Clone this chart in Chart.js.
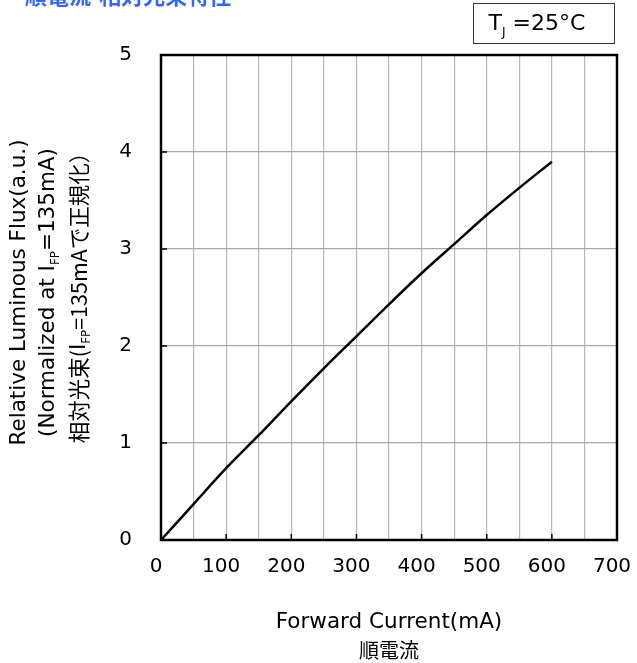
<!DOCTYPE html>
<html lang="ja">
  <head>
    <meta charset="UTF-8" />
    <title>順電流-相対光束特性</title>
    <script src="https://cdn.jsdelivr.net/npm/chart.js"></script>
    <style>
      body {
        margin: 0;
        background: #fff;
      }
      canvas {
        display: block;
      }
    </style>
  </head>
  <body>
    <canvas id="fluxChart" width="637" height="663"></canvas>

    <script>
      // forward current (mA) vs relative luminous flux
      const currents = [0, 50, 100, 150, 200, 250, 300, 350, 400, 450, 500, 550, 600];
      const flux = [0, 0.37, 0.74, 1.08, 1.43, 1.77, 2.1, 2.43, 2.75, 3.05, 3.35, 3.63, 3.9];
      const xTicks = [0, 100, 200, 300, 400, 500, 600, 700];
      const yTicks = [0, 1, 2, 3, 4, 5];

      const FONT = "'DejaVu Sans', Verdana, sans-serif";
      const CJK = "'Noto Sans CJK JP', 'DejaVu Sans', sans-serif";

      // draws a run of text pieces, some as subscripts, centered on (0,0)
      function drawRuns(ctx, runs, size) {
        let total = 0;
        runs.forEach((r) => {
          ctx.font = (r.sub ? size * 0.55 : size) + "px " + (r.cjk ? CJK : FONT);
          r.w = ctx.measureText(r.t).width;
          total += r.w;
        });
        let x = -total / 2;
        runs.forEach((r) => {
          ctx.font = (r.sub ? size * 0.55 : size) + "px " + (r.cjk ? CJK : FONT);
          ctx.fillText(r.t, x, r.sub ? size * 0.38 : 0);
          x += r.w;
        });
      }

      const decorations = {
        id: "decorations",
        afterDraw(chart) {
          const ctx = chart.ctx;
          const a = chart.chartArea;
          const xs = chart.scales.x;
          const ys = chart.scales.y;
          ctx.save();

          // inside tick marks
          ctx.strokeStyle = "#000";
          ctx.lineWidth = 1.5;
          xTicks.forEach((v) => {
            const px = xs.getPixelForValue(v);
            ctx.beginPath();
            ctx.moveTo(px, a.bottom);
            ctx.lineTo(px, a.bottom - 6);
            ctx.stroke();
          });
          yTicks.forEach((v) => {
            const py = ys.getPixelForValue(v);
            ctx.beginPath();
            ctx.moveTo(a.left, py);
            ctx.lineTo(a.left + 6, py);
            ctx.stroke();
          });

          // frame
          ctx.lineWidth = 2.5;
          ctx.strokeRect(a.left, a.top, a.right - a.left, a.bottom - a.top);

          // title, cut off at the top edge like the original
          ctx.fillStyle = "#3366ff";
          ctx.font = "bold 22px " + CJK;
          ctx.textBaseline = "alphabetic";
          ctx.textAlign = "left";
          ctx.fillText("順電流-相対光束特性", 25, 4);

          // condition box
          ctx.strokeStyle = "#333";
          ctx.lineWidth = 1;
          ctx.strokeRect(473.5, 3.5, 141, 40);
          ctx.fillStyle = "#000";
          ctx.textBaseline = "middle";
          ctx.save();
          ctx.translate(537, 24);
          drawRuns(ctx, [{ t: "T" }, { t: "J", sub: true }, { t: " =25°C" }], 22);
          ctx.restore();

          // y axis title, three rotated lines
          const yc = (a.top + a.bottom) / 2 - 5;
          const lines = [
            { x: 19, runs: [{ t: "Relative Luminous Flux(a.u.)" }] },
            { x: 48, runs: [{ t: "(Normalized at I" }, { t: "FP", sub: true }, { t: "=135mA)" }] },
            {
              x: 79,
              runs: [
                { t: "相対光束(", cjk: true },
                { t: "I" },
                { t: "FP", sub: true },
                { t: "=135mAで正規化）", cjk: true },
              ],
            },
          ];
          lines.forEach((l) => {
            ctx.save();
            ctx.translate(l.x, yc);
            ctx.rotate(-Math.PI / 2);
            drawRuns(ctx, l.runs, 21.5);
            ctx.restore();
          });

          // x axis title
          const xc = (a.left + a.right) / 2;
          ctx.textAlign = "left";
          ctx.save();
          ctx.translate(xc, 622);
          drawRuns(ctx, [{ t: "Forward Current(mA)" }], 21.5);
          ctx.restore();
          ctx.save();
          ctx.translate(xc, 650);
          drawRuns(ctx, [{ t: "順電流", cjk: true }], 20);
          ctx.restore();

          ctx.restore();
        },
      };

      new Chart(document.getElementById("fluxChart"), {
        type: "line",
        data: {
          datasets: [
            {
              data: currents.map((c, i) => ({ x: c, y: flux[i] })),
              borderColor: "#000",
              borderWidth: 2.5,
              pointRadius: 0,
              tension: 0.4,
              cubicInterpolationMode: "monotone",
              fill: false,
            },
          ],
        },
        options: {
          responsive: false,
          animation: false,
          layout: { padding: { left: 0, top: 55, right: 20, bottom: 0 } },
          plugins: {
            legend: { display: false },
            tooltip: { enabled: false },
          },
          scales: {
            x: {
              type: "linear",
              min: 0,
              max: 700,
              afterFit: (s) => {
                s.height = 123;
                s.paddingLeft = 0;
                s.paddingRight = 0;
              },
              ticks: {
                stepSize: 50,
                autoSkip: false,
                maxRotation: 0,
                padding: 15,
                labelOffset: -5,
                color: "#000",
                font: { family: FONT, size: 20 },
                callback: (v) => (v % 100 === 0 ? v : ""),
              },
              grid: { color: "#b8b8b8", lineWidth: 1.2, drawTicks: false },
              border: { display: false },
            },
            y: {
              min: 0,
              max: 5,
              afterFit: (s) => {
                s.width = 161;
                s.paddingTop = 0;
                s.paddingBottom = 0;
              },
              ticks: {
                stepSize: 1,
                padding: 29,
                color: "#000",
                font: { family: FONT, size: 20 },
              },
              grid: { color: "#a8a8a8", lineWidth: 1.2, drawTicks: false },
              border: { display: false },
            },
          },
        },
        plugins: [decorations],
      });
    </script>
  </body>
</html>
